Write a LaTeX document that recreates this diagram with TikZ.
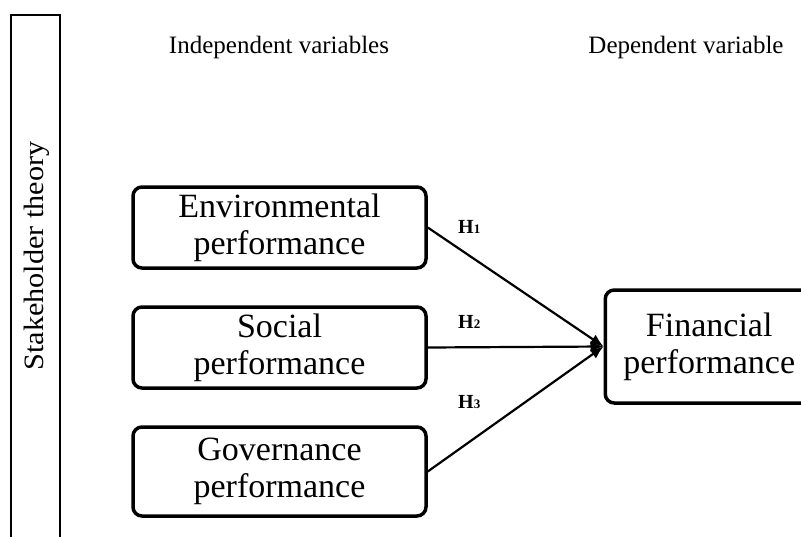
\documentclass[tikz,border=0pt]{standalone}
\usepackage{fontspec}
\setmainfont{Liberation Serif}
\usetikzlibrary{arrows.meta}

\tikzset{
  varbox/.style={draw, line width=3.5pt, rounded corners=9pt, align=center,
    minimum width=293pt, font=\fontsize{34}{37}\selectfont},
  hyp/.style={anchor=base west, inner sep=0pt, font=\fontsize{20}{20}\selectfont\bfseries},
  link/.style={line width=2.2pt, -{Latex[length=13pt,width=11pt]}}
}

\begin{document}
\begin{tikzpicture}[x=1pt,y=-1pt]
\useasboundingbox (0,0) rectangle (801,536);

% theory frame on the left
\draw[line width=1.6pt] (11,15) rectangle (60,560);
\node[rotate=90, xscale=1.08, font=\fontsize{28}{28}\selectfont] (theory) at (37,256) {Stakeholder theory};

% column headings
\node[anchor=base, font=\fontsize{25}{25}\selectfont] (indep) at (279,53) {Independent variables};
\node[anchor=base, font=\fontsize{25}{25}\selectfont] (dep) at (686,53) {Dependent variable};

% variables
\node[varbox, minimum height=81pt] (env) at (279.5,227.5) {Environmental\\performance};
\node[varbox, minimum height=81pt] (soc) at (279.5,347.5) {Social\\performance};
\node[varbox, minimum height=89pt] (gov) at (279.5,471.5) {Governance\\performance};
\node[varbox, anchor=west, minimum width=208pt, minimum height=113pt] (fin) at (603.5,346.5) {Financial\\performance};

\foreach \v in {env,soc,gov}
  \draw[link] (\v.east) -- (fin.west);

\node[hyp] (h1) at (458,233) {H{\fontsize{13}{13}\selectfont 1}};
\node[hyp] (h2) at (458,328) {H{\fontsize{13}{13}\selectfont 2}};
\node[hyp] (h3) at (458,408) {H{\fontsize{13}{13}\selectfont 3}};

\end{tikzpicture}
\end{document}
